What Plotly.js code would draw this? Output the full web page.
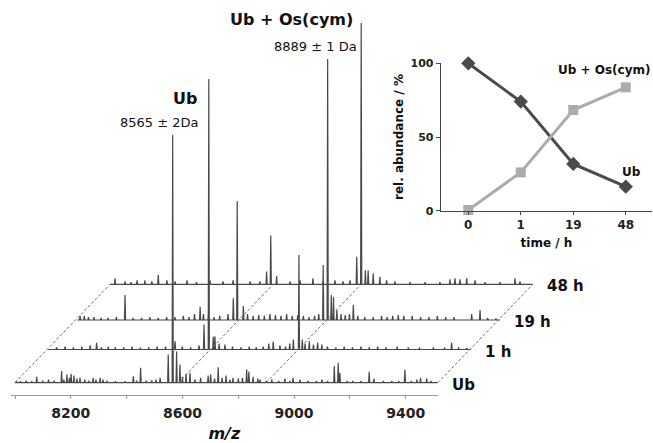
<!DOCTYPE html>
<html>
<head>
<meta charset="utf-8">
<script src="https://cdn.plot.ly/plotly-3.0.1.min.js"></script>
<style>html,body{margin:0;padding:0;background:#fff}#chart{width:653px;height:443px}</style>
</head>
<body>
<div id="chart"></div>
<script>
// ---------------- DATA ----------------
// Spectra: peak m/z and relative intensity (% of the tallest peak), per incubation time
const layerNames = ['Ub', '1 h', '19 h', '48 h'];

const mz0h = [8005,8020,8040,8060,8078,8100,8120,8140,8167,8175,8186,8195,8201,8211,8222,8233,8250,8265,8280,8290,8305,8315,8330,8360,8395,8424,8436,8450,8470,8490,8505,8520,8549,8565,8579,8591,8600,8613,8627,8645,8665,8692,8701,8715,8728,8742,8756,8770,8781,8800,8815,8830,8838,8853,8870,8878,8900,8920,8945,8967,8985,8996,9021,9050,9080,9100,9120,9144,9158,9164,9190,9210,9240,9269,9286,9320,9350,9375,9397,9420,9440,9453,9475,9490];
const int0h = [0.7,0.6,0.8,0.6,2.2,0.8,1.1,0.8,4.3,1.1,3.0,1.8,3.3,2.6,1.5,1.8,1.1,0.8,1.8,1.1,1.8,1.1,0.8,0.6,0.6,2.4,0.8,5.5,0.8,0.9,1.1,1.8,10.4,91.6,11.5,6.7,2.2,3.3,3.7,1.1,1.8,2.6,3.0,1.5,5.7,1.8,2.6,1.1,1.8,1.5,1.8,4.9,4.1,2.2,1.5,1.1,0.7,1.1,0.7,1.5,0.7,1.8,1.1,0.7,0.7,1.1,0.7,6.2,7.4,3.7,0.7,0.7,0.7,4.0,1.5,0.7,0.7,0.7,4.9,0.7,1.1,1.8,1.5,0.7];

const mz1h = [8030,8060,8090,8120,8150,8173,8190,8215,8240,8270,8300,8330,8360,8390,8420,8454,8480,8510,8540,8558,8575,8591,8597,8612,8633,8660,8690,8720,8745,8770,8790,8806,8830,8850,8865,8878,8898,8910,8920,8935,8950,8965,8980,9000,9030,9060,9090,9120,9150,9180,9210,9250,9290,9330,9380,9420,9445,9470,9500];
const int1h = [0.8,1.1,0.8,1.1,1.5,2.5,0.8,1.1,0.8,0.8,1.1,0.7,0.8,1.1,1.1,3.1,1.1,0.8,1.5,9.2,100,4.7,4.9,2.2,1.8,1.1,0.8,1.1,0.8,1.1,2.2,2.9,1.5,1.1,2.2,3.7,34.9,3.7,2.2,3.0,1.8,2.6,1.8,1.1,0.7,1.1,0.8,1.1,0.8,1.1,0.8,1.1,0.8,0.7,0.8,0.7,2.5,0.8,0.6];

const mz19h = [8010,8025,8040,8060,8085,8110,8140,8171,8200,8230,8260,8290,8320,8350,8380,8400,8420,8440,8452,8470,8490,8510,8540,8559,8573,8595,8610,8630,8650,8670,8690,8710,8730,8750,8770,8790,8810,8830,8850,8865,8881,8897,8910,8918,8930,8945,8960,8975,8989,9005,9030,9060,9090,9110,9130,9150,9170,9200,9230,9260,9290,9320,9350,9413,9443,9470,9500];
const int19h = [1.5,1.5,1.1,1.1,0.8,0.8,1.1,9.2,0.8,0.8,1.1,0.8,1.1,1.1,1.5,1.1,2.2,4.9,2.2,1.5,1.1,1.5,2.2,8.0,44.0,5.2,2.2,1.5,1.8,1.5,2.2,1.8,1.5,2.2,1.5,1.8,1.5,1.1,1.5,2.2,20.3,96.5,9.2,8.5,3.7,2.2,1.8,2.2,5.5,1.5,1.1,1.1,1.5,1.1,1.5,1.8,1.5,1.5,1.1,1.1,1.5,1.1,1.1,2.2,3.7,0.8,0.6];

const mz48h = [8018,8054,8075,8097,8125,8150,8173,8204,8233,8276,8310,8358,8405,8441,8502,8537,8561,8576,8597,8645,8681,8727,8763,8806,8835,8860,8884,8900,8915,8925,8943,8967,8991,9021,9075,9129,9182,9218,9236,9254,9278,9308,9344,9397,9451,9469];
const int48h = [2.2,1.1,0.8,1.5,1.5,1.1,3.4,1.5,1.1,1.5,0.8,1.5,1.1,1.5,1.1,1.1,4.7,18.0,3.1,1.1,1.5,2.2,1.1,1.5,1.1,1.5,10.2,96.6,5.2,5.2,4.1,2.8,1.5,1.1,0.8,0.8,0.8,1.8,2.2,1.8,2.2,1.5,0.8,0.8,2.2,1.1];

const mzStart = 8000, mzEnd = 9515;
const mzTickVals = [8000,8200,8400,8600,8800,9000,9200,9400];
const mzTickText = ['','8200','','8600','','9000','','9400'];
const guideMz = [8000, 8585, 8900, 9515];

// Inset: relative abundance vs time
const timeCats = ['0','1','19','48'];
const ubAbund = [100, 74, 31.7, 16.3];
const ubOsAbund = [0.5, 26, 68.3, 83.7];

// ---------------- LAYOUT GEOMETRY ----------------
const W = 653, H = 443;
const PX_PER_MZ = 0.2791;
const layerLeft = [15, 48.3, 77.3, 110];     // pixel of m/z 8000 in each layer
const layerBase = [382.7, 349.5, 320, 284.3]; // pixel of intensity 0 in each layer
const PX_PER_UNIT = 2.705;
const axisRange = [7985, 9515];
const yMinPx = 12.3; // axis line below baseline

function stickLine(mz, inten) {
  const xs = [mzStart], ys = [0];
  const hw = 2;
  mz.forEach((m, i) => { xs.push(m - hw, m, m + hw); ys.push(0, inten[i], 0); });
  xs.push(mzEnd); ys.push(0);
  return {xs, ys};
}

const spectra = [[mz0h,int0h],[mz1h,int1h],[mz19h,int19h],[mz48h,int48h]];
const traces = [];
const layout = {
  width: W, height: H,
  margin: {l:0, r:0, t:0, b:0},
  paper_bgcolor: '#fff', plot_bgcolor: 'rgba(0,0,0,0)',
  showlegend: false,
  font: {family: 'DejaVu Sans', color: '#1a1a1a'},
  annotations: [], shapes: []
};

const yLow = -yMinPx / PX_PER_UNIT;
const yHigh = 101;
spectra.forEach((s, k) => {
  const sl = stickLine(s[0], s[1]);
  const xa = k === 0 ? 'x' : 'x' + (k + 1);
  const ya = k === 0 ? 'y' : 'y' + (k + 1);
  traces.push({
    type: 'scatter', mode: 'lines', x: sl.xs, y: sl.ys, xaxis: xa, yaxis: ya,
    line: {color: '#484848', width: 1.2, simplify: false}, hoverinfo: 'skip', name: layerNames[k]
  });
  const xl = layerLeft[k] + (axisRange[0] - 8000) * PX_PER_MZ;
  const xr = layerLeft[k] + (axisRange[1] - 8000) * PX_PER_MZ;
  const yb = layerBase[k] + yMinPx;
  const yt = layerBase[k] - yHigh * PX_PER_UNIT;
  const xName = k === 0 ? 'xaxis' : 'xaxis' + (k + 1);
  const yName = k === 0 ? 'yaxis' : 'yaxis' + (k + 1);
  layout[xName] = {
    domain: [xl / W, xr / W], range: axisRange, anchor: k === 0 ? 'y' : 'y' + (k + 1),
    showgrid: false, zeroline: false, fixedrange: true,
    visible: k === 0
  };
  layout[yName] = {
    domain: [1 - yb / H, 1 - yt / H], range: [yLow, yHigh], anchor: k === 0 ? 'x' : 'x' + (k + 1),
    visible: false, showgrid: false, zeroline: false, fixedrange: true
  };
  // layer label
  const rightEnd = layerLeft[k] + (mzEnd - 8000) * PX_PER_MZ;
  layout.annotations.push({
    xref: 'paper', yref: 'paper', x: (rightEnd + 12) / W, y: 1 - (layerBase[k] + 2) / H,
    xanchor: 'left', yanchor: 'middle', showarrow: false,
    text: '<b>' + layerNames[k] + '</b>', font: {size: 15, color: '#111'}
  });
});

Object.assign(layout.xaxis, {
  showline: true, linecolor: '#9a9a9a', linewidth: 1,
  ticks: 'outside', ticklen: 3, tickcolor: '#9a9a9a',
  tickvals: mzTickVals, ticktext: mzTickText, ticklabelstandoff: 2,
  tickfont: {family: 'DejaVu Sans', size: 14, color: '#222', weight: 'bold'},
  title: {text: '<b><i>m/z</i></b>', font: {size: 16, color: '#111'}, standoff: 8}
});

// dashed guide lines joining same m/z across layers
guideMz.forEach(m => {
  const x0 = layerLeft[0] + (m - 8000) * PX_PER_MZ;
  const x1 = layerLeft[3] + (m - 8000) * PX_PER_MZ;
  layout.shapes.push({
    type: 'line', xref: 'paper', yref: 'paper',
    x0: x0 / W, y0: 1 - layerBase[0] / H, x1: x1 / W, y1: 1 - layerBase[3] / H,
    line: {color: '#707070', width: 1, dash: '3px,2px'}
  });
});

// peak annotations
const bigLabels = [
  {t: '<b>Ub + Os(cym)</b>', x: 291, y: 20, s: 16},
  {t: '8889 ± 1 Da', x: 315, y: 47, s: 13},
  {t: '<b>Ub</b>', x: 185, y: 98, s: 16},
  {t: '8565 ± 2Da', x: 159.5, y: 122, s: 13}
];
bigLabels.forEach(b => layout.annotations.push({
  xref: 'paper', yref: 'paper', x: b.x / W, y: 1 - b.y / H, xanchor: 'center', yanchor: 'middle',
  showarrow: false, text: b.t, font: {size: b.s, color: '#111'}
}));

// ---------------- INSET ----------------
traces.push({
  type: 'scatter', mode: 'lines+markers', x: timeCats, y: ubAbund, xaxis: 'x5', yaxis: 'y5',
  line: {color: '#4a4a4a', width: 3}, marker: {symbol: 'diamond', size: 11, color: '#4a4a4a'},
  cliponaxis: false, hoverinfo: 'skip', name: 'Ub'
});
traces.push({
  type: 'scatter', mode: 'lines+markers', x: timeCats, y: ubOsAbund, xaxis: 'x5', yaxis: 'y5',
  line: {color: '#ababab', width: 3}, marker: {symbol: 'square', size: 10, color: '#ababab'},
  cliponaxis: false, hoverinfo: 'skip', name: 'Ub + Os(cym)'
});
layout.xaxis5 = {
  domain: [441 / W, 652 / W], anchor: 'y5', type: 'category', range: [-0.52, 3.5],
  showline: true, linecolor: '#444', linewidth: 1.3, ticks: 'outside', ticklen: 3, tickcolor: '#444',
  showgrid: false, zeroline: false, fixedrange: true,
  tickfont: {size: 12, color: '#222', weight: 'bold'},
  title: {text: '<b>time / h</b>', font: {size: 12, color: '#111'}, standoff: 7}
};
layout.yaxis5 = {
  domain: [1 - 210.7 / H, 1 - 63.3 / H], anchor: 'x5', range: [0, 100],
  showline: true, linecolor: '#444', linewidth: 1.3, ticks: 'outside', ticklen: 4, tickcolor: '#444',
  tickvals: [0, 50, 100], showgrid: false, zeroline: false, fixedrange: true,
  tickfont: {size: 11, color: '#222', weight: 'bold'},
  title: {text: '<b>rel. abundance / %</b>', font: {size: 12, color: '#111'}, standoff: 4}
};
layout.annotations.push({
  xref: 'paper', yref: 'paper', x: 604 / W, y: 1 - 69.5 / H, xanchor: 'center', yanchor: 'middle',
  showarrow: false, text: '<b>Ub + Os(cym)</b>', font: {size: 12, color: '#111'}
});
layout.annotations.push({
  xref: 'paper', yref: 'paper', x: 631 / W, y: 1 - 172 / H, xanchor: 'center', yanchor: 'middle',
  showarrow: false, text: '<b>Ub</b>', font: {size: 12, color: '#111'}
});

Plotly.newPlot('chart', traces, layout, {staticPlot: true, displayModeBar: false});
</script>
</body>
</html>
